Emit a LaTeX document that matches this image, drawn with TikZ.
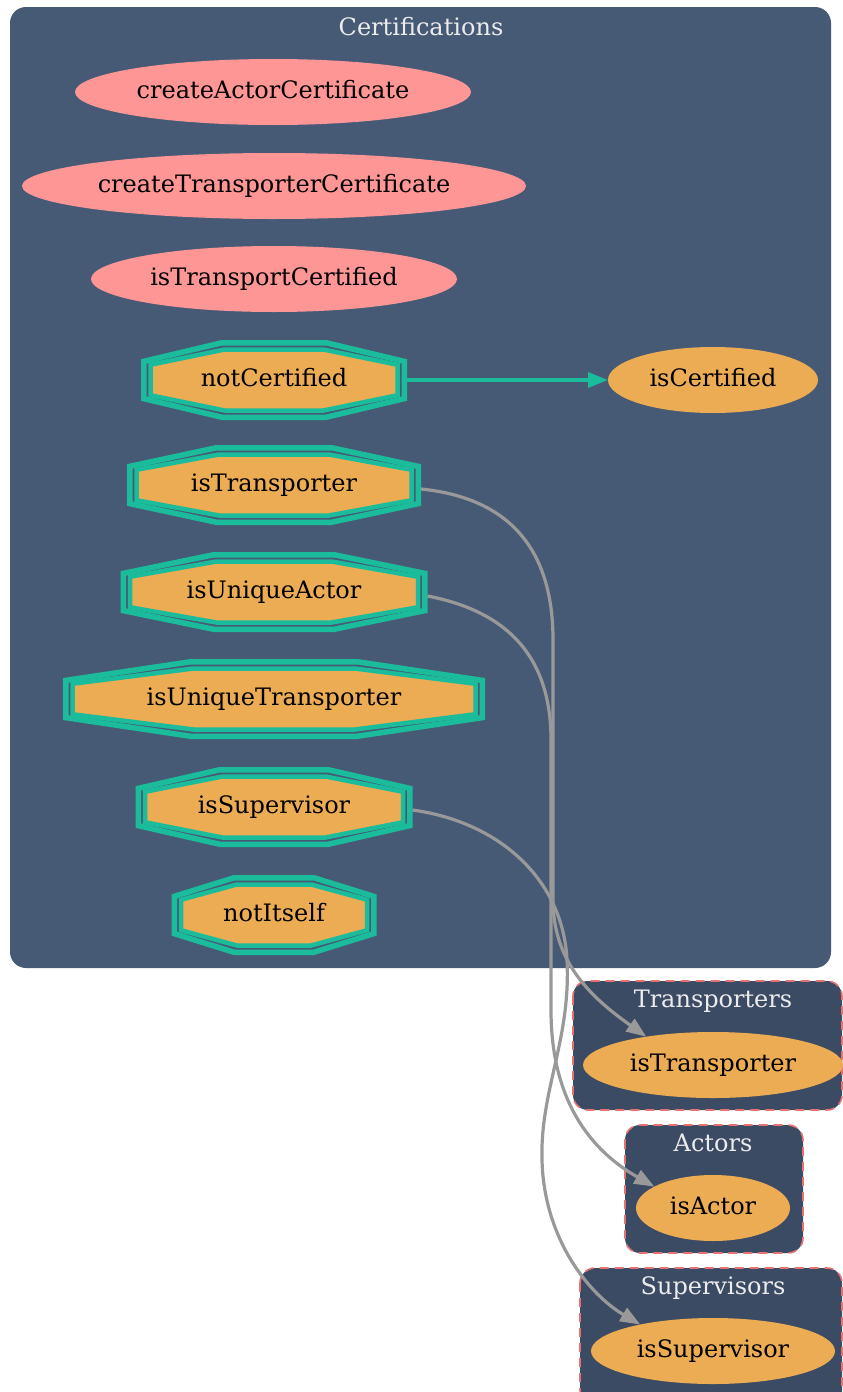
\documentclass[tikz,border=0pt]{standalone}
\usepackage{fontspec}
\setmainfont{DejaVu Serif}
\usetikzlibrary{shapes.geometric,arrows.meta}

\definecolor{certbg}{HTML}{465A75}
\definecolor{subbg}{HTML}{3C4B64}
\definecolor{fnorange}{HTML}{EBAC54}
\definecolor{fnpink}{HTML}{FF9696}
\definecolor{modteal}{HTML}{1ABC9C}
\definecolor{callgray}{HTML}{999999}
\definecolor{dashred}{HTML}{E57373}
\definecolor{titlegray}{HTML}{ECECEC}

\tikzset{
  lbl/.style={font=\fontsize{24}{29}\selectfont, text height=18pt, text depth=5.5pt,
              inner sep=0pt, outer sep=0pt},
  ttl/.style={font=\fontsize{24}{29}\selectfont, text=titlegray, inner sep=0pt, anchor=base},
  pinkfn/.style={lbl, ellipse, fill=fnpink},
  orangefn/.style={lbl, ellipse, fill=fnorange},
  octouter/.style={draw=modteal, line width=5.5pt, line join=miter},
  octinner/.style={draw=modteal, line width=4.5pt, fill=fnorange, line join=miter},
  mainbox/.style={fill=certbg, rounded corners=16pt},
  subbox/.style={fill=subbg, draw=dashred, line width=1.6pt, dash pattern=on 9pt off 6pt,
                 rounded corners=15pt},
  call/.style={draw=callgray, line width=3.2pt, -{Triangle[length=20pt,width=15pt]}},
  guard/.style={draw=modteal, line width=3.2pt, -{Triangle[length=20pt,width=15pt]}}
}

% octagon outline: style, centre x, centre y, half width, half height, inset
\newcommand\octpoly[6]{%
  \draw[#1] ({#2-0.4*(#4-#6)},{#3-(#5-#6)}) -- ({#2+0.4*(#4-#6)},{#3-(#5-#6)})
    -- ({#2+(#4-#6)},{#3-0.5*(#5-#6)}) -- ({#2+(#4-#6)},{#3+0.5*(#5-#6)})
    -- ({#2+0.4*(#4-#6)},{#3+(#5-#6)}) -- ({#2-0.4*(#4-#6)},{#3+(#5-#6)})
    -- ({#2-(#4-#6)},{#3+0.5*(#5-#6)}) -- ({#2-(#4-#6)},{#3-0.5*(#5-#6)}) -- cycle;}

% double octagon modifier node: name, centre x, centre y, half width, label
\newcommand\modnode[5]{%
  \octpoly{octouter}{#2}{#3}{#4}{40}{2.75}
  \octpoly{octinner}{#2}{#3}{#4}{40}{9.5}
  \node[lbl, minimum width={2*#4}, minimum height=80] (#1) at (#2,#3) {#5};}

\begin{document}
\begin{tikzpicture}[x=1pt, y=-1pt]
  \useasboundingbox (0,0) rectangle (843,1392);

  % contract clusters
  \path[mainbox] (10,7) rectangle (831,968);
  \node[ttl] (certTitle) at (421,35) {Certifications};

  \path[subbox] (573,981) rectangle (842,1110);
  \node[ttl] (trTitle) at (713,1007) {Transporters};

  \path[subbox] (625,1125) rectangle (803,1253);
  \node[ttl] (acTitle) at (713,1151) {Actors};

  \path[subbox] (580,1268) rectangle (842,1405);
  \node[ttl] (svTitle) at (713,1294) {Supervisors};

  % functions of Certifications
  \node[pinkfn, minimum width=396, minimum height=66] (createActorCertificate) at (273,92) {createActorCertificate};
  \node[pinkfn, minimum width=504, minimum height=66] (createTransporterCertificate) at (274,186) {createTransporterCertificate};
  \node[pinkfn, minimum width=366, minimum height=66] (isTransportCertified) at (274,279) {isTransportCertified};
  \node[orangefn, minimum width=210, minimum height=66] (isCertified) at (713,380) {isCertified};

  % modifiers of Certifications
  \modnode{notCertified}{274}{380}{133}{notCertified}
  \modnode{certIsTransporter}{274}{485}{147}{isTransporter}
  \modnode{isUniqueActor}{274}{592}{153.5}{isUniqueActor}
  \modnode{isUniqueTransporter}{274}{699}{211}{isUniqueTransporter}
  \modnode{certIsSupervisor}{274}{807}{138.5}{isSupervisor}
  \modnode{notItself}{274}{915}{102.5}{notItself}

  % functions of the other contracts
  \node[orangefn, minimum width=260, minimum height=66] (isTransporter) at (713,1065) {isTransporter};
  \node[orangefn, minimum width=154, minimum height=66] (isActor) at (713,1208) {isActor};
  \node[orangefn, minimum width=244, minimum height=66] (isSupervisor) at (713,1351) {isSupervisor};

  % calls
  \draw[guard] (notCertified.east) -- (isCertified.west);

  \draw[call] ([yshift=-4pt]certIsTransporter.east)
      .. controls (500,497) and (553,540) .. (553,640) -- (553,900)
      .. controls (553,965) and (595,1000) .. (isTransporter.157);

  \draw[call] ([yshift=-4pt]isUniqueActor.east)
      .. controls (500,610) and (551,650) .. (551,740) -- (551,1010)
      .. controls (551,1100) and (590,1150) .. (isActor.160);

  \draw[call] ([yshift=-3pt]certIsSupervisor.east)
      .. controls (500,822) and (563,880) .. (567,960)
      .. controls (571,1040) and (540,1090) .. (542,1160)
      .. controls (544,1240) and (590,1295) .. (isSupervisor.160);
\end{tikzpicture}
\end{document}
